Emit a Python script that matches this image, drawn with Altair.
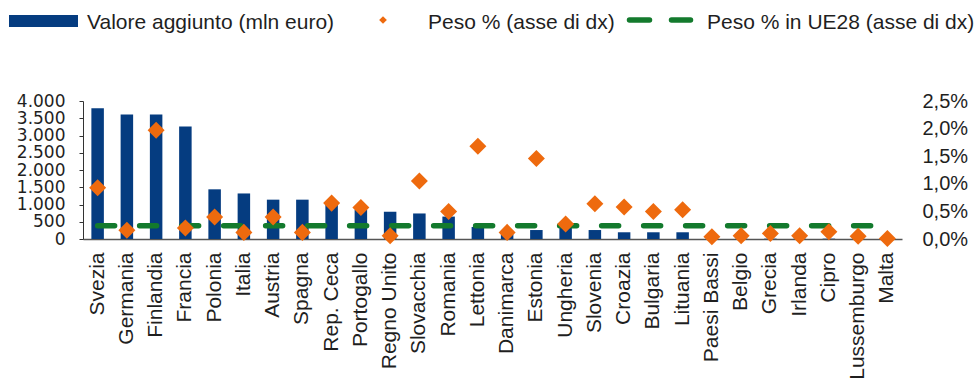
import altair as alt
import pandas as pd

# Paesi UE, valore aggiunto (mln euro) e peso % sul totale nazionale
paesi = ["Svezia", "Germania", "Finlandia", "Francia", "Polonia", "Italia",
         "Austria", "Spagna", "Rep. Ceca", "Portogallo", "Regno Unito",
         "Slovacchia", "Romania", "Lettonia", "Danimarca", "Estonia",
         "Ungheria", "Slovenia", "Croazia", "Bulgaria", "Lituania",
         "Paesi Bassi", "Belgio", "Grecia", "Irlanda", "Cipro",
         "Lussemburgo", "Malta"]
valore_aggiunto = [3790, 3610, 3610, 3260, 1440, 1320, 1140, 1140, 1000, 850,
                   790, 740, 650, 350, 150, 260, 330, 260, 195, 195, 195,
                   10, 10, 10, 10, 10, 10, 5]
peso = [0.93, 0.16, 1.97, 0.20, 0.40, 0.12, 0.40, 0.12, 0.65, 0.57, 0.06,
        1.05, 0.50, 1.68, 0.12, 1.46, 0.27, 0.64, 0.58, 0.50, 0.53,
        0.04, 0.06, 0.10, 0.06, 0.13, 0.05, 0.01]
peso_ue28 = 0.24

left_ticks = [0, 500, 1000, 1500, 2000, 2500, 3000, 3500, 4000]
right_ticks = [0.0, 0.5, 1.0, 1.5, 2.0, 2.5]

df = pd.DataFrame({"paese": paesi, "valore": valore_aggiunto, "peso": peso})
df["ue28"] = peso_ue28

BLU = "#053C80"
ARANCIO = "#EE6A0E"
VERDE = "#137A2D"
TESTO = "#1f1f1f"
FONT = "Liberation Sans"

x_enc = alt.X("paese:N", sort=paesi, title=None,
              scale=alt.Scale(paddingInner=0, paddingOuter=0),
              axis=alt.Axis(labelAngle=-90, labelPadding=13, ticks=False,
                            tickSize=0, labelFontSize=21, domainColor="#555555",
                            domainWidth=1.3, zindex=0, labelLimit=300,
                            labelOverlap=False))

base = alt.Chart(df)

bars = base.mark_bar(size=12.5, color=BLU).encode(
    x=x_enc,
    y=alt.Y("valore:Q", title=None,
            scale=alt.Scale(domain=[0, 4000], nice=False),
            axis=alt.Axis(values=left_ticks, orient="left", grid=False,
                          labelExpr="replace(format(datum.value, ','), ',', '.')",
                          tickSize=4, labelPadding=14, labelFontSize=17,
                          labelFont="DejaVu Sans", labelOverlap=False,
                          domainColor="#333333", tickColor="#333333",
                          zindex=0)),
)

pct_scale = alt.Scale(domain=[0, 2.5], nice=False)

ue28_line = base.mark_line(color=VERDE, strokeWidth=5.5, strokeCap="round",
                           strokeDash=[17, 25]).encode(
    x=alt.X("paese:N", sort=paesi),
    y=alt.Y("ue28:Q", scale=pct_scale, axis=None),
)

points = base.mark_point(shape="diamond", filled=True, size=290,
                         color=ARANCIO, opacity=1).encode(
    x=alt.X("paese:N", sort=paesi),
    y=alt.Y("peso:Q", title=None, scale=pct_scale,
            axis=alt.Axis(values=right_ticks, orient="right", grid=False,
                          domain=False, ticks=False, labelPadding=20,
                          labelFontSize=20, labelOverlap=False,
                          labelExpr="replace(format(datum.value, '.1f'), '.', ',') + '%'")),
)

# Legenda in alto
one = alt.Data(values=[{"k": 0}])
leg_rect = alt.Chart(one).mark_rect(color=BLU).encode(
    x=alt.value(-74), x2=alt.value(-5), y=alt.value(-86), y2=alt.value(-74))
leg_t1 = alt.Chart(one).mark_text(align="left", baseline="alphabetic",
                                  fontSize=21, font=FONT, color=TESTO).encode(
    x=alt.value(4), y=alt.value(-72), text=alt.value("Valore aggiunto (mln euro)"))
leg_diamond = alt.Chart(one).mark_point(shape="diamond", filled=True, size=60,
                                        color=ARANCIO, opacity=1).encode(
    x=alt.value(300), y=alt.value(-81))
leg_t2 = alt.Chart(one).mark_text(align="left", baseline="alphabetic",
                                  fontSize=21, font=FONT, color=TESTO).encode(
    x=alt.value(345), y=alt.value(-72), text=alt.value("Peso % (asse di dx)"))
leg_dash = alt.Chart(one).mark_rule(color=VERDE, strokeWidth=5.5, strokeCap="round",
                                    strokeDash=[20, 22]).encode(
    x=alt.value(546.5), x2=alt.value(607.5), y=alt.value(-81))
leg_t3 = alt.Chart(one).mark_text(align="left", baseline="alphabetic",
                                  fontSize=21, font=FONT, color=TESTO).encode(
    x=alt.value(624), y=alt.value(-72), text=alt.value("Peso % in UE28 (asse di dx)"))

chart = alt.layer(
    bars, ue28_line, points,
    leg_rect, leg_t1, leg_diamond, leg_t2, leg_dash, leg_t3,
).resolve_scale(y="independent").properties(
    width=819, height=138,
    padding={"left": 83, "top": 101, "right": 77, "bottom": 139},
    autosize=alt.AutoSizeParams(type="none"),
    background="white",
).configure_view(strokeWidth=0).configure_axis(
    labelFont=FONT, labelColor=TESTO,
)

chart.save("out.html", embed_options={"renderer": "svg", "actions": False})
